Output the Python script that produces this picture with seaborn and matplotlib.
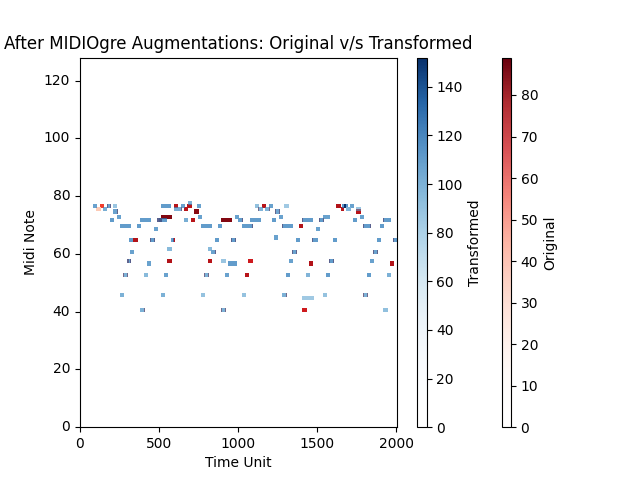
import numpy as np
import matplotlib
matplotlib.use("Agg")
import matplotlib.pyplot as plt
from matplotlib.cm import ScalarMappable
from matplotlib.colors import ListedColormap, Normalize
import seaborn as sns

n_time = 2006
n_pitch = 128
rows_per_pitch = 5
original_max = 89
transformed_max = 152

# Transformed notes
t_pitch = [76,76,76,76,76,76,76,76,77,
           75,75,
           74,
           72,72,72,
           71,71,71,71,71,71,
           69,69,69,69,69,
           68,
           64,64,64,64,64,
           61,61,
           60,60,
           57,57,
           56,56,
           52,52,52,52,52,
           45,45,45,45,
           40,40,
           76,76,76,76,
           75,75,75,
           74,
           72,72,72,
           71,71,71,71,71,71,75,
           69,69,69,
           68,65,
           64,64,64,64,64,
           60,60,
           57,57,57,
           52,52,52,52,52,
           45,45,45,45,
           44,40]
t_start = [82,171,208,512,638,739,1656,1668,682,
           145,594,
           208,
           234,745,979,
           190,379,487,657,998,1510,
           253,360,764,872,1024,
           468,
           310,442,575,853,954,
           550,809,
           316,828,
           297,891,
           423,935,
           272,404,531,783,916,
           253,512,764,1023,
           379,891,
           1106,1194,1289,1706,
           1125,1169,1681,
           1232,
           1257,1535,1769,
           1074,1213,1403,1725,1914,1011,1744,
           1276,1788,1895,
           1491,1226,
           1365,1466,1599,1877,1978,
           1340,1851,
           1321,1573,1832,
           1302,1428,1554,1813,1940,
           1276,1535,1788,1024,
           1403,1914]
t_end = [107,196,234,575,663,764,1693,1681,708,
         171,644,
         240,
         259,771,1005,
         215,449,550,682,1030,1542,
         322,385,834,897,1093,
         493,
         335,474,594,878,986,
         581,834,
         341,859,
         322,922,
         449,992,
         303,430,556,815,941,
         278,537,790,1049,
         411,922,
         1131,1219,1321,1731,
         1156,1201,1712,
         1264,
         1283,1580,1794,
         1144,1238,1472,1750,1965,1030,1775,
         1346,1839,1921,
         1516,1251,
         1390,1504,1624,1902,2003,
         1371,1883,
         1346,1605,1858,
         1327,1453,1580,1839,1965,
         1308,1561,1820,1049,
         1479,1946]
t_velocity = [108,108,88,110,108,108,112,152,100,
              102,102,
              108,
              108,108,108,
              110,110,110,102,110,110,
              110,110,110,110,110,
              108,
              110,110,110,110,110,
              95,95,
              108,108,
              108,88,
              108,110,
              100,95,108,100,108,
              100,100,90,100,
              100,100,
              92,108,85,108,
              98,98,98,
              106,
              108,108,108,
              110,110,110,110,110,110,88,
              110,110,110,
              108,108,
              110,110,110,110,110,
              108,108,
              108,110,108,
              110,98,110,110,100,
              100,90,100,90,
              85,92]

# Original notes
o_pitch = [76,76,76,75,75,74,72,71,71,71,64,64,57,57,57,52,
           76,76,75,74,69,57,56,56,52,40,
           76,76,74,71,71,64,64,64,64,60,57,52,52,52,52,40,40,40,75,
           71,69,75,75,74,74,71,71,71,69,69,69,71,64,64,60,60,60,60,57,57,45,45,45]
o_start = [126,594,676,101,657,720,512,500,701,891,335,590,315,550,809,1042,
           1150,1618,1649,1744,1384,1062,1447,1959,1043,1403,
           171,190,234,487,1024,442,468,954,980,853,297,272,297,783,809,404,891,916,638,
           1024,1087,1125,1194,1232,1257,1403,1510,1535,1276,1788,1832,1914,1466,1978,1340,1365,1851,1877,1573,1599,1302,1813,1788]
o_end = [152,619,708,133,682,752,581,519,727,960,366,601,322,581,834,1068,
         1175,1649,1668,1775,1409,1093,1472,1984,1068,1434,
         177,196,240,499,1030,449,474,960,986,859,310,278,303,790,815,411,897,922,644,
         1030,1093,1131,1201,1238,1264,1409,1516,1542,1283,1794,1839,1921,1472,1984,1346,1371,1858,1883,1580,1605,1308,1820,1794]
o_velocity = [55,72,72,18,72,83,84,80,72,84,74,70,70,74,72,72,
              72,74,72,72,74,66,74,74,72,66,
              60,60,60,60,60,60,60,60,60,60,60,60,60,60,60,60,60,60,60,
              60,60,60,60,60,60,60,60,60,60,60,60,60,60,60,60,60,60,60,60,60,60,60,60]


def roll(pitch, start, end, velocity):
    grid = np.zeros((n_pitch * rows_per_pitch, n_time))
    for p, s, e, v in zip(pitch, start, end, velocity):
        # each note is painted slightly taller than its semitone row
        grid[p * rows_per_pitch:p * rows_per_pitch + 7, s:e] = v
    return grid


def fading(name):
    rgba = plt.get_cmap(name)(np.linspace(0, 1, 256))
    rgba[:, 3] = np.linspace(0, 1, 256)
    return ListedColormap(rgba)


original = roll(o_pitch, o_start, o_end, o_velocity)
transformed = roll(t_pitch, t_start, t_end, t_velocity)
reds_fade = fading("Reds")
blues_fade = fading("Blues")

fig, ax = plt.subplots(figsize=(6.4, 4.8), dpi=100)
sns.heatmap(original, mask=original == 0, cmap="Reds", vmin=0, vmax=original_max,
            ax=ax, cbar=False)
sns.heatmap(transformed, mask=transformed == 0, cmap=blues_fade, vmin=0, vmax=transformed_max,
            ax=ax, cbar=False)

for cmap, top, label in [(reds_fade, original_max, "Original"),
                         (blues_fade, transformed_max, "Transformed")]:
    sm = ScalarMappable(norm=Normalize(0, top), cmap=cmap)
    fig.colorbar(sm, ax=ax, aspect=40, label=label)

y_ticks = list(range(0, 121, 20))
ax.set_xlim(0, n_time)
ax.set_ylim(0, n_pitch * rows_per_pitch)
ax.set_xticks([0, 500, 1000, 1500, 2000], labels=["0", "500", "1000", "1500", "2000"], rotation=0)
ax.set_yticks([v * rows_per_pitch for v in y_ticks], labels=[str(v) for v in y_ticks], rotation=0)
for side in ax.spines.values():
    side.set_visible(True)
    side.set_linewidth(0.8)
ax.set_xlabel("Time Unit")
ax.set_ylabel("Midi Note")
ax.set_title("After MIDIOgre Augmentations: Original v/s Transformed")
fig.savefig("out.png", dpi=100)
